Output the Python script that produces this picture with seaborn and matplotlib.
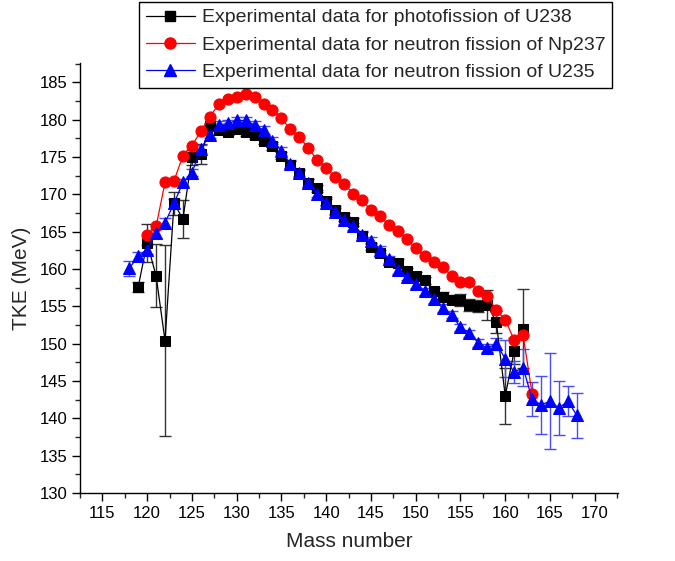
import numpy as np
import pandas as pd
import matplotlib
matplotlib.use("Agg")
import matplotlib.pyplot as plt
import seaborn as sns
from matplotlib.ticker import MultipleLocator
from matplotlib.lines import Line2D

# ---- data ----
u238_A = list(range(119, 163))
u238_tke = [157.6, 163.5, 159.1, 150.4, 168.8, 166.7, 175.0, 175.4, 179.1, 178.6,
            178.4, 178.7, 178.3, 177.9, 177.2, 176.5, 175.2, 174.0, 172.8, 171.5,
            170.8, 169.1, 167.9, 167.0, 166.3, 164.4, 163.0, 162.1, 161.0, 160.8,
            159.7, 159.1, 158.5, 157.0, 156.3, 155.9, 155.8, 155.2, 155.0, 155.2,
            152.9, 143.0, 149.0, 152.0]
u238_err = [0.7, 2.6, 4.2, 12.8, 1.5, 2.5, 1.0, 1.3, 0.5, 0.5,
            0.5, 0.5, 0.5, 0.5, 0.5, 0.5, 0.5, 0.5, 0.5, 0.5,
            0.5, 0.5, 0.5, 0.5, 0.5, 0.5, 0.5, 0.5, 0.5, 0.5,
            0.5, 0.5, 0.5, 0.5, 0.6, 0.6, 0.8, 0.8, 0.8, 2.0,
            1.5, 3.7, 1.7, 5.3]

np237_A = list(range(120, 164))
np237_tke = [164.5, 165.7, 171.6, 171.8, 175.2, 176.5, 178.5, 180.4, 182.1, 182.8,
             183.1, 183.4, 183.0, 182.1, 181.3, 180.2, 178.7, 177.7, 176.2, 174.6,
             173.6, 172.3, 171.4, 170.1, 169.2, 167.9, 167.1, 165.9, 165.1, 164.0,
             162.8, 161.7, 161.0, 160.3, 159.1, 158.3, 158.2, 157.1, 156.4, 154.5,
             153.2, 150.5, 151.1, 143.3]

u235_A = list(range(118, 169))
u235_tke = [160.1, 161.7, 162.6, 164.8, 166.2, 168.8, 171.6, 172.9, 176.1, 178.0,
            179.3, 179.5, 179.9, 179.9, 179.3, 178.6, 177.2, 175.8, 174.1, 172.9,
            171.5, 170.1, 168.9, 167.7, 166.6, 165.7, 164.6, 163.8, 162.6, 161.3,
            159.9, 159.0, 158.0, 157.0, 156.0, 154.8, 153.9, 152.2, 151.4, 150.1,
            149.4, 150.0, 148.0, 146.2, 146.8, 142.6, 141.8, 142.3, 141.4, 142.3,
            140.4]
u235_err = [1.0, 0.6, 0.6, 0.6, 0.6, 0.6, 0.5, 0.5, 0.5, 0.5,
            0.5, 0.5, 0.5, 0.5, 0.5, 0.5, 0.5, 0.5, 0.5, 0.5,
            0.5, 0.5, 0.5, 0.5, 0.5, 0.5, 0.5, 0.5, 0.5, 0.5,
            0.5, 0.5, 0.5, 0.5, 0.5, 0.5, 0.5, 0.5, 0.5, 0.5,
            0.5, 0.8, 2.5, 1.5, 2.5, 2.3, 3.9, 6.4, 3.6, 2.0,
            3.0]

labels = ["Experimental data for photofission of U238",
          "Experimental data for neutron fission of Np237",
          "Experimental data for neutron fission of U235"]

# ---- style ----
sns.set_theme(style="ticks")
plt.rcParams['font.family'] = ['Liberation Sans', 'DejaVu Sans']
plt.rcParams['axes.linewidth'] = 1.0

fig = plt.figure(figsize=(6.75, 5.61), dpi=100)
ax = fig.add_axes([0.1185, 0.1212, 0.9156 - 0.1185, 0.8877 - 0.1212])

df1 = pd.DataFrame({"A": u238_A, "TKE": u238_tke})
df2 = pd.DataFrame({"A": np237_A, "TKE": np237_tke})
df3 = pd.DataFrame({"A": u235_A, "TKE": u235_tke})

# error bars
ax.errorbar(u238_A, u238_tke, yerr=u238_err, fmt='none', ecolor='#333333',
            elinewidth=1.0, capsize=4, capthick=1.0, zorder=2)
ax.errorbar(u235_A, u235_tke, yerr=u235_err, fmt='none', ecolor='#4a4aff',
            elinewidth=1.0, capsize=4, capthick=1.0, zorder=2)

sq, ci, tr = 7, 8, 8
sns.lineplot(data=df1, x="A", y="TKE", ax=ax, color='black', marker='s',
             markersize=sq, markeredgecolor='black', linewidth=0.9, zorder=3)
sns.lineplot(data=df2, x="A", y="TKE", ax=ax, color='red', marker='o',
             markersize=ci, markeredgecolor='red', linewidth=0.9, zorder=3)
sns.lineplot(data=df3, x="A", y="TKE", ax=ax, color='blue', marker='^',
             markersize=tr, markeredgecolor='blue', linewidth=0.9, zorder=4)

ax.set_xlim(112.5, 172.6)
ax.set_ylim(130, 187.6)
ax.xaxis.set_major_locator(MultipleLocator(5))
ax.xaxis.set_minor_locator(MultipleLocator(2.5))
ax.yaxis.set_major_locator(MultipleLocator(5))
ax.yaxis.set_minor_locator(MultipleLocator(2.5))
ax.tick_params(axis='both', which='major', direction='out', length=6, width=1,
               labelsize=12, colors='black', pad=3)
ax.tick_params(axis='both', which='minor', direction='out', length=3.5, width=1)
for s in ['top', 'right']:
    ax.spines[s].set_visible(False)
for s in ['left', 'bottom']:
    ax.spines[s].set_color('black')

ax.set_xlabel("Mass number", fontsize=15, labelpad=8)
ax.set_ylabel("TKE (MeV)", fontsize=15, labelpad=6)

handles = [
    Line2D([], [], color='black', marker='s', markersize=sq, linewidth=0.9),
    Line2D([], [], color='red', marker='o', markersize=ci, linewidth=0.9),
    Line2D([], [], color='blue', marker='^', markersize=tr, linewidth=0.9),
]
leg = fig.legend(handles, labels, loc='upper right',
                 bbox_to_anchor=(612 / 675, 1 - 2 / 561),
                 fontsize=14, frameon=True, fancybox=False, edgecolor='black',
                 framealpha=1, handlelength=2.5, handletextpad=0.35,
                 labelspacing=0.5, borderpad=0.35, borderaxespad=0)
leg.get_frame().set_linewidth(1.0)

fig.savefig("out.png", dpi=100)
